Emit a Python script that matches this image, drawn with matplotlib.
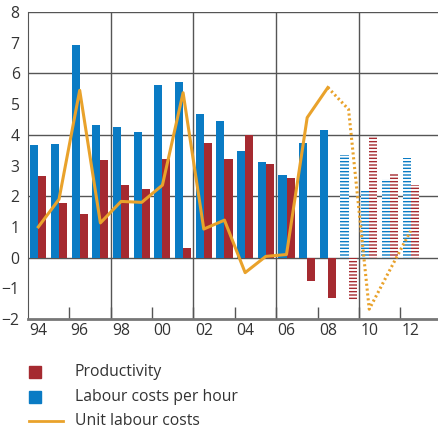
import matplotlib as mpl
mpl.use('Agg')
import matplotlib.pyplot as plt
import numpy as np
from matplotlib.patches import Rectangle
from matplotlib.lines import Line2D

years = np.arange(1994, 2013)
labour_costs = [3.66, 3.69, 6.92, 4.31, 4.25, 4.08, 5.61, 5.71, 4.67, 4.44,
                3.46, 3.11, 2.68, 3.72, 4.15, 3.33, 2.16, 2.55, 3.24]
productivity = [2.65, 1.77, 1.41, 3.17, 2.36, 2.23, 3.20, 0.30, 3.72, 3.20,
                3.98, 3.04, 2.58, -0.77, -1.32, -1.39, 3.93, 2.75, 2.36]
unit_labour = [1.00, 1.90, 5.45, 1.13, 1.83, 1.80, 2.36, 5.37, 0.93, 1.22,
               -0.49, 0.04, 0.10, 4.56, 5.54, 4.83, -1.68, -0.40, 0.87]
first_forecast = 2009
xlabels = ['94', '96', '98', '00', '02', '04', '06', '08', '10', '12']

blue = '#0a7bc4'
red = '#a52a30'
orange = '#e9a22b'
txt = '#333333'
grid = '#555555'

plt.rcParams['font.family'] = ['Open Sans', 'DejaVu Sans']
plt.rcParams['hatch.linewidth'] = 1.0

fig = plt.figure(figsize=(4.38, 4.32), dpi=100)
ax = fig.add_axes([28/438, 113/432, (441.6-28)/438, (319-12)/432])

w = 0.39
hist = years < first_forecast
fc = years >= first_forecast
ax.bar(years[hist] - w/2, np.array(labour_costs)[hist], width=w, color=blue, zorder=2)
ax.bar(years[hist] + w/2, np.array(productivity)[hist], width=w, color=red, zorder=2)
ax.bar(years[fc] - w/2, np.array(labour_costs)[fc], width=w, facecolor='white',
       edgecolor=blue, hatch='-----', linewidth=0, zorder=2)
ax.bar(years[fc] + w/2, np.array(productivity)[fc], width=w, facecolor='white',
       edgecolor=red, hatch='-----', linewidth=0, zorder=2)

ulc = np.array(unit_labour)
ax.plot(years[years <= 2008], ulc[years <= 2008], color=orange, lw=2.2, zorder=3)
ax.plot(years[years >= 2008], ulc[years >= 2008], color=orange, lw=2.2,
        linestyle=(0, (0.7, 0.9)), zorder=3)

ax.set_xlim(1993.5, 2013.5)
ax.set_ylim(-2, 8)

for y in [0, 2, 4, 6, 8]:
    ax.axhline(y, color=grid, lw=1, zorder=1)
for x in [1997.5, 2001.5, 2005.5, 2009.5]:
    ax.axvline(x, color=grid, lw=1, zorder=1)

ax.set_yticks(np.arange(-2, 9))
ax.set_yticks([-1, 1, 3, 5, 7], minor=True)
ax.tick_params(axis='y', which='major', length=0, labelsize=11.3, labelcolor=txt, pad=6)
ax.tick_params(axis='y', which='minor', direction='in', length=5, color=grid,
               left=True, right=True, width=1)
ax.set_xticks(years[::2])
ax.set_xticklabels(xlabels)
ax.set_xticks(np.arange(1995.5, 2013, 2), minor=True)
ax.tick_params(axis='x', which='major', length=0, labelsize=11.3, labelcolor=txt, pad=3)
ax.tick_params(axis='x', which='minor', direction='in', length=9, color=grid, width=1)

for s in ['left', 'bottom', 'right']:
    ax.spines[s].set_color(grid)
ax.spines['top'].set_visible(False)
ax.spines['bottom'].set_linewidth(2)
ax.spines['bottom'].set_color('#777777')

# legend
rows = [372, 397, 421]
fig.add_artist(Rectangle((29/438, 1 - (rows[0]+6)/432), 12/438, 12/432,
                         transform=fig.transFigure, color=red))
fig.add_artist(Rectangle((29/438, 1 - (rows[1]+6)/432), 12/438, 12/432,
                         transform=fig.transFigure, color=blue))
fig.add_artist(Line2D([29/438, 63/438], [1 - rows[2]/432]*2,
                      transform=fig.transFigure, color=orange, lw=2))
for r, lab in zip(rows, ['Productivity', 'Labour costs per hour', 'Unit labour costs']):
    fig.text(75/438, 1 - r/432, lab, fontsize=11.3, color=txt, va='center')

fig.savefig('out.png', dpi=100)
